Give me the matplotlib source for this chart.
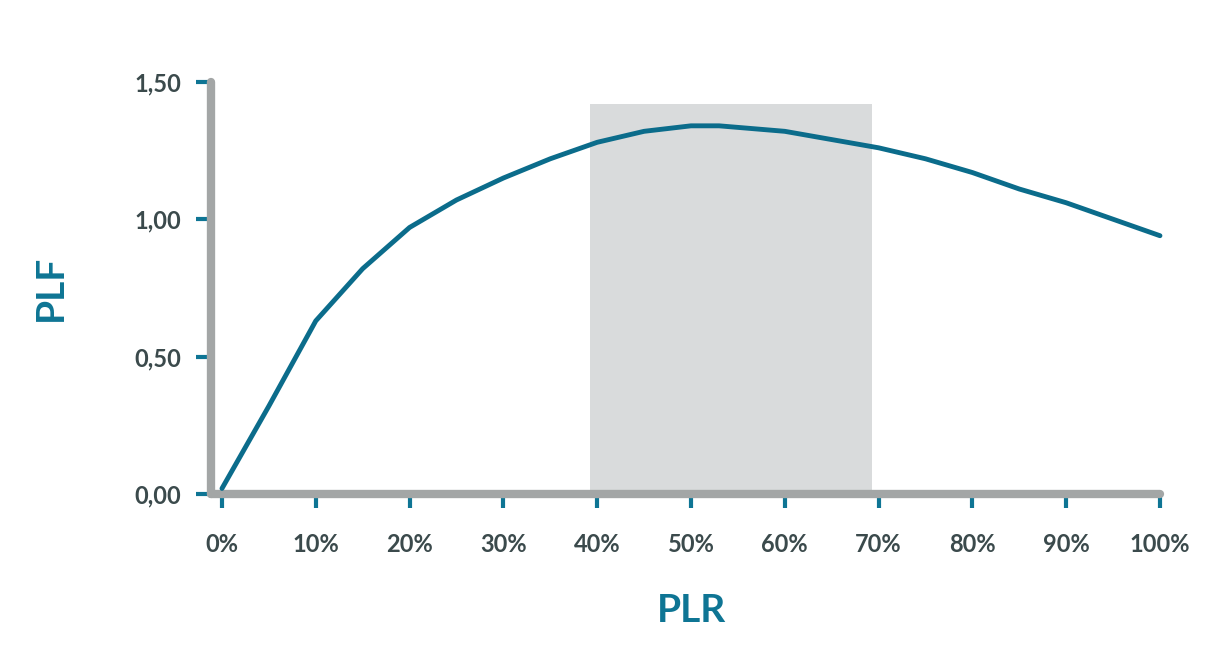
import matplotlib.pyplot as plt

# data
plr = [0, 5, 10, 15, 20, 25, 30, 35, 40, 45, 50, 53, 60, 65, 70, 75, 80, 85, 90, 95, 100]
plf = [0.02, 0.32, 0.63, 0.82, 0.97, 1.07, 1.15, 1.22, 1.28, 1.32, 1.34, 1.34, 1.32, 1.29,
       1.26, 1.22, 1.17, 1.11, 1.06, 1.00, 0.94]
band = (39.2, 69.3, 1.42)
xticks = list(range(0, 101, 10))
yticks = [0, 0.5, 1.0, 1.5]

teal = '#0e7594'
line_col = '#0b6c8b'
grey = '#a3a6a6'
text_col = '#3b4a4c'

plt.rcParams['font.family'] = ['Lato', 'DejaVu Sans']
fig = plt.figure(figsize=(12.3, 6.49), dpi=100)
ax = fig.add_axes([205 / 1230, 1 - 500 / 649, (1170 - 205) / 1230, (500 - 75) / 649])
ax.set_xlim(-1.81, 101.07)
ax.set_ylim(-0.022, 1.525)

ax.fill_between([band[0], band[1]], 0, band[2], color='#d9dbdc', lw=0, zorder=1)
ax.plot(plr, plf, color=line_col, lw=3.5, solid_capstyle='round', zorder=3)

for s in ['top', 'right']:
    ax.spines[s].set_visible(False)
ax.spines['bottom'].set_position(('data', 0))
ax.spines['left'].set_position(('data', -1.2))
ax.spines['bottom'].set_bounds(-1.2, 100)
ax.spines['left'].set_bounds(0, 1.5)
for s in ['bottom', 'left']:
    ax.spines[s].set_color(grey)
    ax.spines[s].set_linewidth(6)
    ax.spines[s].set_capstyle('round')
    ax.spines[s].set_zorder(2)

ax.set_xticks(xticks)
ax.set_xticklabels([f'{t}%' for t in xticks])
ax.set_yticks(yticks)
ax.set_yticklabels([f'{t:.2f}'.replace('.', ',') for t in yticks])
ax.tick_params(axis='x', length=10, width=3, color=teal, pad=18, labelsize=17,
               labelcolor=text_col)
ax.tick_params(axis='y', length=11, width=3, color=teal, pad=10, labelsize=17,
               labelcolor=text_col)
for lab in ax.get_xticklabels() + ax.get_yticklabels():
    lab.set_fontweight('bold')

fig.text(0.5 * (222 + 1160) / 1230, 1 - 610 / 649, 'PLR', color=teal, fontsize=28,
         fontweight='bold', ha='center', va='center')
fig.text(50 / 1230, 1 - 288 / 649, 'PLF', color=teal, fontsize=28,
         fontweight='bold', ha='center', va='center', rotation=90)

fig.savefig('out.png', dpi=100)
